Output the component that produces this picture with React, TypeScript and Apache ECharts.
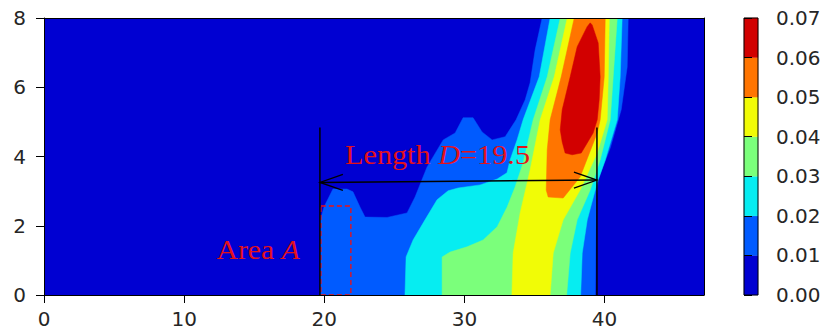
import React, { useEffect, useRef } from "react";
import * as echarts from "echarts";

// ---------- data ----------
const X_MAX = 47.1;
const Y_MAX = 8;
const X_TICKS = [0, 10, 20, 30, 40];
const Y_TICKS = [0, 2, 4, 6, 8];

const LEVELS = [0, 0.01, 0.02, 0.03, 0.04, 0.05, 0.06, 0.07];
const LEVEL_COLORS = ["#0000d2", "#005bff", "#06edf1", "#7bff7b", "#f1fc06", "#ff7500", "#d20000"];

// filled regions (value >= level), in data units
const region000 = [[0, 0], [X_MAX, 0], [X_MAX, Y_MAX], [0, Y_MAX]];
const region001 = [
  [19.7, 0], [19.73, 2.17], [19.98, 2.54], [20.62, 3.06], [21.62, 3.06], [22.05, 2.98],
  [22.55, 2.54], [22.91, 2.25], [24.48, 2.24], [25.91, 2.37], [26.48, 2.83], [27.34, 3.7],
  [28.49, 4.48], [29.34, 4.68], [29.91, 5.12], [30.62, 5.12], [31.26, 4.71], [31.98, 4.48],
  [32.91, 4.57], [33.69, 5.06], [34.34, 5.64], [34.69, 6.13], [35.05, 7.08], [35.55, 8],
  [41.69, 8], [41.62, 6.59], [41.19, 5.35], [40.41, 4.25], [39.55, 3.35], [39.41, 2.75], [39.34, 0],
];
const region002 = [
  [25.76, 0], [25.84, 1.1], [26.34, 1.59], [27.19, 2.17], [28.05, 2.75], [28.84, 3.01],
  [29.55, 3.09], [31.12, 3.18], [32.34, 3.35], [33.04, 3.53], [33.26, 3.9], [33.76, 4.48],
  [34.19, 5.06], [35.34, 6.3], [36.12, 8],
  [41.26, 8], [41.12, 6.3], [40.91, 5.06], [40.05, 3.9], [39.48, 3.24], [38.77, 2.17],
  [38.41, 1.21], [38.3, 0],
];
const region003 = [
  [28.41, 0], [28.41, 1.1], [28.98, 1.24], [30.19, 1.39], [31.34, 1.59], [32.34, 1.97],
  [33.05, 2.54], [33.62, 3.12], [34.19, 3.82], [34.91, 5.06], [35.91, 6.3], [36.84, 8],
  [40.91, 8], [40.62, 6.3], [40.41, 5.06], [39.69, 3.9], [38.98, 3.03], [38.05, 2.17],
  [37.55, 1.21], [37.3, 0],
];
const region004 = [
  [33.39, 0], [33.48, 1.21], [33.98, 2.37], [34.69, 3.61], [35.41, 5.06], [36.41, 6.3], [37.34, 8],
  [40.34, 8], [40.27, 6.3], [40.19, 5.06], [39.48, 4.1], [38.26, 3.03], [37.05, 2.17],
  [36.34, 1.21], [36.12, 0],
];
const region005 = [
  [37.84, 8], [36.91, 6.3], [36.12, 5.06], [35.91, 4.19], [35.84, 3.03], [35.98, 2.83],
  [37.05, 2.8], [38.26, 3.41], [39.48, 4.68], [39.69, 5.06], [39.98, 6.3], [40.05, 8],
];
const region006 = [
  [38.98, 7.86], [38.76, 7.75], [38.05, 7.17], [37.55, 6.3], [36.98, 5.35], [36.84, 4.77],
  [36.98, 4.42], [37.19, 4.1], [37.69, 4.05], [38.34, 4.1], [39.19, 4.68], [39.48, 5.06],
  [39.62, 5.64], [39.69, 6.3], [39.55, 7.28], [39.12, 7.8],
];
const CONTOURS = [region000, region001, region002, region003, region004, region005, region006];

// annotations
const BOUNDARY_X = [19.69, 39.46];
const BOUNDARY_TOP = 4.84;
const ARROW_START = [19.69, 3.25];
const ARROW_END = [39.46, 3.32];
const AREA_A_X = [19.76, 21.9];
const AREA_A_Y = [0, 2.57];
const LENGTH_LABEL_POS = [21.48, 4.05];
const AREA_LABEL_POS = [12.31, 1.31];

// ---------- component ----------
const SERIF = '"Liberation Serif", "Times New Roman", serif';
const SANS = '"DejaVu Sans", sans-serif';
const TXT_RED = "#e3121b";
const TICK_COLOR = "#262626";

export default function App() {
  const ref = useRef<HTMLDivElement>(null);

  useEffect(() => {
    if (!ref.current) return;
    const chart = echarts.init(ref.current, null, { renderer: "svg" });

    const cbData = LEVELS.slice(0, -1).map((lo, i) => [lo, LEVELS[i + 1], i]);

    const option: any = {
      animation: false,
      backgroundColor: "#fff",
      grid: [
        { left: 44, top: 18, width: 660, bottom: 41 },
        { left: 744, top: 18, width: 14, bottom: 41 },
      ],
      xAxis: [
        {
          type: "value", gridIndex: 0, min: 0, max: X_MAX, interval: 10, z: 10,
          axisLine: { show: true, onZero: false, lineStyle: { color: "#000", width: 1 } },
          axisTick: { show: true, length: 8, customValues: X_TICKS, lineStyle: { color: "#000", width: 1 } },
          axisLabel: { fontSize: 20, margin: 14, color: TICK_COLOR, fontFamily: SANS, customValues: X_TICKS },
          splitLine: { show: false },
        },
        {
          type: "value", gridIndex: 0, position: "top", min: 0, max: X_MAX, z: 10,
          axisLine: { show: true, onZero: false, lineStyle: { color: "#000", width: 1 } },
          axisTick: { show: false }, axisLabel: { show: false }, splitLine: { show: false },
        },
        {
          type: "value", gridIndex: 1, min: 0, max: 1, show: false,
        },
      ],
      yAxis: [
        {
          type: "value", gridIndex: 0, min: 0, max: Y_MAX, interval: 2, z: 10,
          axisLine: { show: true, onZero: false, lineStyle: { color: "#000", width: 1 } },
          axisTick: { show: true, length: 8, customValues: Y_TICKS, lineStyle: { color: "#000", width: 1 } },
          axisLabel: { fontSize: 20, margin: 18, color: TICK_COLOR, fontFamily: SANS, customValues: Y_TICKS },
          splitLine: { show: false },
        },
        {
          type: "value", gridIndex: 0, position: "right", min: 0, max: Y_MAX, z: 10,
          axisLine: { show: true, onZero: false, lineStyle: { color: "#000", width: 1 } },
          axisTick: { show: false }, axisLabel: { show: false }, splitLine: { show: false },
        },
        {
          type: "value", gridIndex: 1, position: "right", min: 0, max: 0.07, interval: 0.01, z: 10,
          axisLine: { show: false },
          axisTick: { show: true, length: 8, lineStyle: { color: "#000", width: 1 } },
          axisLabel: {
            fontSize: 20, margin: 18, color: TICK_COLOR, fontFamily: SANS,
            formatter: (v: number) => v.toFixed(2),
          },
          splitLine: { show: false },
        },
      ],
      series: [
        {
          type: "custom",
          name: "contours",
          xAxisIndex: 0, yAxisIndex: 0,
          silent: true,
          clip: true,
          data: CONTOURS.map((_, i) => [LEVELS[i]]),
          renderItem: (params: any, api: any) => {
            const poly = CONTOURS[params.dataIndex];
            const points = poly.map((p) => api.coord(p));
            return {
              type: "polygon",
              shape: { points },
              style: { fill: LEVEL_COLORS[params.dataIndex], stroke: LEVEL_COLORS[params.dataIndex], lineWidth: 0.5 },
            };
          },
        },
        {
          type: "custom",
          name: "annotations",
          xAxisIndex: 0, yAxisIndex: 0,
          silent: true,
          z: 5,
          data: [[0]],
          renderItem: (params: any, api: any) => {
            const l0 = api.coord([BOUNDARY_X[0], 0]);
            const l1 = api.coord([BOUNDARY_X[0], BOUNDARY_TOP]);
            const r0 = api.coord([BOUNDARY_X[1], 0]);
            const r1 = api.coord([BOUNDARY_X[1], BOUNDARY_TOP]);
            const a0 = api.coord(ARROW_START);
            const a1 = api.coord(ARROW_END);
            const ra = api.coord([AREA_A_X[0], AREA_A_Y[1]]);
            const rb = api.coord([AREA_A_X[1], AREA_A_Y[0]]);
            const tl = api.coord(LENGTH_LABEL_POS);
            const ta = api.coord(AREA_LABEL_POS);
            const hl = 23, hw = 8;
            const lineStyle = { stroke: "#000", lineWidth: 1.5 };
            return {
              type: "group",
              children: [
                { type: "rect", shape: { x: ra[0], y: ra[1], width: rb[0] - ra[0], height: rb[1] - ra[1] },
                  style: { fill: "none", stroke: "#f01010", lineWidth: 1.3, lineDash: [5, 3] } },
                { type: "line", shape: { x1: l0[0], y1: l0[1], x2: l1[0], y2: l1[1] }, style: lineStyle },
                { type: "line", shape: { x1: r0[0], y1: r0[1], x2: r1[0], y2: r1[1] }, style: lineStyle },
                { type: "line", shape: { x1: a0[0], y1: a0[1], x2: a1[0], y2: a1[1] }, style: lineStyle },
                { type: "polyline", shape: { points: [[a0[0] + hl, a0[1] - hw], a0, [a0[0] + hl, a0[1] + hw]] },
                  style: { fill: "none", stroke: "#000", lineWidth: 1.3 } },
                { type: "polyline", shape: { points: [[a1[0] - hl, a1[1] - hw], a1, [a1[0] - hl, a1[1] + hw]] },
                  style: { fill: "none", stroke: "#000", lineWidth: 1.3 } },
                {
                  type: "text", x: tl[0], y: tl[1], scaleX: 1.12,
                  style: {
                    text: "{n|Length }{i|D}{n|=19.5}",
                    align: "left", verticalAlign: "middle",
                    rich: {
                      n: { fontFamily: SERIF, fontSize: 27, fill: TXT_RED },
                      i: { fontFamily: SERIF, fontSize: 27, fontStyle: "italic", fill: TXT_RED },
                    },
                  },
                },
                {
                  type: "text", x: ta[0], y: ta[1], scaleX: 1.1,
                  style: {
                    text: "{n|Area }{i|A}",
                    align: "left", verticalAlign: "middle",
                    rich: {
                      n: { fontFamily: SERIF, fontSize: 27, fill: TXT_RED },
                      i: { fontFamily: SERIF, fontSize: 27, fontStyle: "italic", fill: TXT_RED },
                    },
                  },
                },
              ],
            };
          },
        },
        {
          type: "custom",
          name: "colorbar",
          xAxisIndex: 2, yAxisIndex: 2,
          silent: true,
          data: cbData,
          renderItem: (params: any, api: any) => {
            const lo = api.value(0), hi = api.value(1);
            const p0 = api.coord([0, lo]);
            const p1 = api.coord([1, hi]);
            return {
              type: "rect",
              shape: { x: p0[0], y: p1[1], width: p1[0] - p0[0], height: p0[1] - p1[1] },
              style: { fill: LEVEL_COLORS[params.dataIndex], stroke: LEVEL_COLORS[params.dataIndex], lineWidth: 0.3 },
            };
          },
        },
        {
          type: "custom",
          name: "colorbar-outline",
          xAxisIndex: 2, yAxisIndex: 2,
          silent: true,
          z: 6,
          data: [[0]],
          renderItem: (params: any, api: any) => {
            const p0 = api.coord([0, LEVELS[0]]);
            const p1 = api.coord([1, LEVELS[LEVELS.length - 1]]);
            return {
              type: "rect",
              shape: { x: p0[0], y: p1[1], width: p1[0] - p0[0], height: p0[1] - p1[1] },
              style: { fill: "none", stroke: "#000", lineWidth: 1 },
            };
          },
        },
      ],
    };

    chart.setOption(option);
    return () => chart.dispose();
  }, []);

  return (
    <div
      ref={ref}
      style={{ position: "fixed", left: 0, top: 0, width: 826, height: 336, background: "#fff" }}
    />
  );
}
